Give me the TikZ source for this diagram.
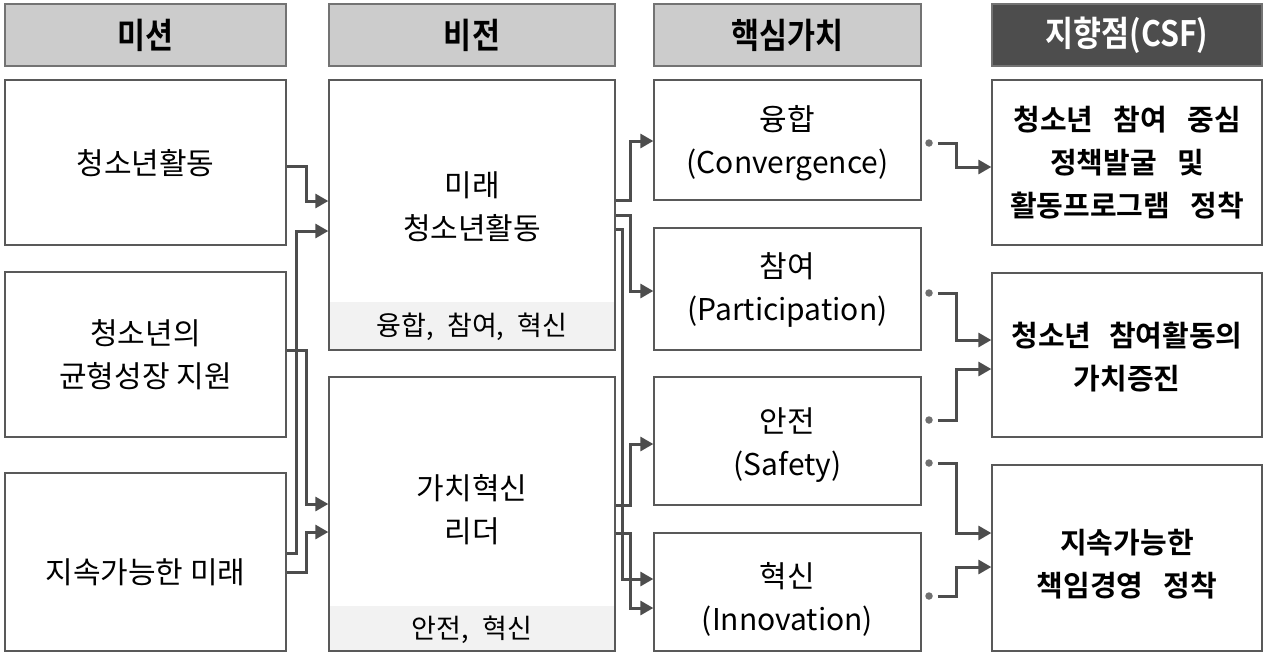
\documentclass[tikz,border=0pt]{standalone}
\usepackage{fontspec}
\setmainfont{Noto Sans CJK KR}
\newfontfamily\hdrfont[FakeStretch=0.87]{Noto Sans CJK KR Bold}
\newfontfamily\bfont{Noto Sans CJK KR Bold}
\usetikzlibrary{arrows.meta}
\definecolor{hdrgray}{HTML}{CCCCCC}
\definecolor{hdrdark}{HTML}{4D4D4D}
\definecolor{linec}{HTML}{4D4D4D}
\definecolor{boxline}{HTML}{595959}
\definecolor{bandc}{HTML}{F2F2F2}
\definecolor{dotc}{HTML}{707070}
\begin{document}
\begin{tikzpicture}[x=1pt,y=-1pt,
  box/.style={draw=boxline, line width=1.3pt, inner sep=0pt},
  hdr/.style={draw=black!55, line width=1.3pt, fill=hdrgray, inner sep=0pt,
    font=\hdrfont\fontsize{35}{38}\selectfont},
  txt/.style={font=\fontsize{30}{43}\selectfont, align=center, inner sep=0pt},
  stxt/.style={font=\fontsize{27}{30}\selectfont, align=center, inner sep=0pt},
  btxt/.style={font=\bfont\fontsize{29}{43}\selectfont, align=center, inner sep=0pt},
  conn/.style={draw=linec, line width=3pt, -{Triangle[length=13pt,width=14pt]}},
  dotnode/.style={circle, fill=dotc, minimum size=7.5pt, inner sep=0pt},
]
\useasboundingbox (0,0) rectangle (1268,656);
% headers
\node[hdr, minimum width=281pt, minimum height=62pt] (h1) at (145.5,35) {미션};
\node[hdr, minimum width=286pt, minimum height=62pt] (h2) at (472,35) {비전};
\node[hdr, minimum width=267pt, minimum height=62pt] (h3) at (787.5,35) {핵심가치};
\node[hdr, fill=hdrdark, text=white, minimum width=270pt, minimum height=62pt] (h4) at (1127,35) {지향점(CSF)};
% mission boxes
\node[box, minimum width=281pt, minimum height=165pt] (m1) at (145.5,162.5) {};
\node[box, minimum width=281pt, minimum height=165pt] (m2) at (145.5,354.5) {};
\node[box, minimum width=281pt, minimum height=178pt] (m3) at (145.5,562) {};
\node[txt] at (145.5,163) {청소년활동};
\node[txt] at (145.5,355) {청소년의\\균형성장 지원};
\node[txt] at (145.5,572) {지속가능한 미래};
% vision boxes
\fill[bandc] (329,302) rectangle (615,350);
\fill[bandc] (329,606) rectangle (615,651);
\node[box, minimum width=286pt, minimum height=270pt] (v1) at (472,215) {};
\node[box, minimum width=286pt, minimum height=274pt] (v2) at (472,514) {};
\node[txt] at (472,207) {미래\\청소년활동};
\node[stxt] at (472,327) {융합,\hspace{0.5em}참여,\hspace{0.5em}혁신};
\node[txt] at (472,510) {가치혁신\\리더};
\node[stxt] at (472,630) {안전,\hspace{0.5em}혁신};
% core values
\node[box, minimum width=267pt, minimum height=120pt] (c1) at (787.5,140) {};
\node[box, minimum width=267pt, minimum height=122pt] (c2) at (787.5,289) {};
\node[box, minimum width=267pt, minimum height=128pt] (c3) at (787.5,441) {};
\node[box, minimum width=267pt, minimum height=118pt] (c4) at (787.5,592) {};
\node[txt] at (787.5,143) {융합\\(Convergence)};
\node[txt] at (787.5,290) {참여\\(Participation)};
\node[txt] at (787.5,445) {안전\\(Safety)};
\node[txt] at (787.5,599) {혁신\\(Innovation)};
% CSF
\node[box, minimum width=270pt, minimum height=165pt] (s1) at (1127,162.5) {};
\node[box, minimum width=270pt, minimum height=164pt] (s2) at (1127,355) {};
\node[box, minimum width=270pt, minimum height=186pt] (s3) at (1127,558) {};
\node[btxt] at (1127,163) {청소년\hspace{0.7em}참여\hspace{0.7em}중심\\정책발굴\hspace{0.7em}및\\활동프로그램\hspace{0.7em}정착};
\node[btxt] at (1127,357) {청소년\hspace{0.6em}참여활동의\\가치증진};
\node[btxt] at (1127,564) {지속가능한\\책임경영\hspace{0.7em}정착};
% connectors mission -> vision
\draw[conn] (m1.east |- 0,166) -| (306,201) -- (v1.west |- 0,201);
\draw[conn] (m3.east |- 0,553) -| (296,231) -- (v1.west |- 0,231);
\draw[conn] (m2.east |- 0,350) -| (306,504) -- (v2.west |- 0,504);
\draw[conn] (m3.east |- 0,572) -| (306,532) -- (v2.west |- 0,532);
% vision -> core values
\draw[conn] (v1.east |- 0,200) -| (630,141) -- (c1.west |- 0,141);
\draw[conn] (v1.east |- 0,215) -| (630,291) -- (c2.west |- 0,291);
\draw[conn] (v1.east |- 0,229) -| (622,579) -- (c4.west |- 0,579);
\draw[conn] (v2.east |- 0,505) -| (630,444) -- (c3.west |- 0,444);
\draw[conn] (v2.east |- 0,533) -| (630,608) -- (c4.west |- 0,608);
% core values -> CSF
\node[dotnode] (d1) at (929,143) {};
\node[dotnode] (d2) at (929,293) {};
\node[dotnode] (d3) at (929,420) {};
\node[dotnode] (d4) at (929,463) {};
\node[dotnode] (d5) at (929,596) {};
\draw[conn] ([xshift=5pt]d1.east) -| (956,167) -- (s1.west |- 0,167);
\draw[conn] ([xshift=5pt]d2.east) -| (956,340) -- (s2.west |- 0,340);
\draw[conn] ([xshift=5pt]d3.east) -| (956,369) -- (s2.west |- 0,369);
\draw[conn] ([xshift=5pt]d4.east) -| (956,533) -- (s3.west |- 0,533);
\draw[conn] ([xshift=5pt]d5.east) -| (956,567) -- (s3.west |- 0,567);
\end{tikzpicture}
\end{document}
